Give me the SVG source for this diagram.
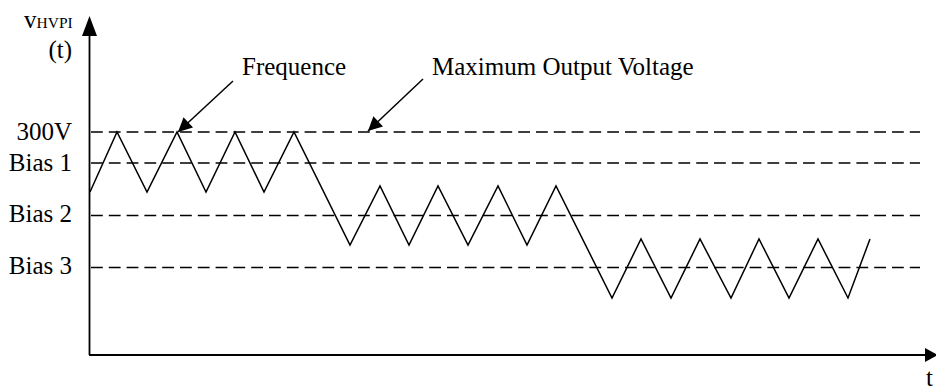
<svg xmlns="http://www.w3.org/2000/svg" width="936" height="390" viewBox="0 0 936 390">
<style>
.t{font-family:"Liberation Serif","Times New Roman",serif;font-size:25px;fill:#000}
.dash{stroke:#000;stroke-width:1.5;stroke-dasharray:11.8 6;fill:none}
.ax{stroke:#000;stroke-width:1.8;fill:none}
.wave{stroke:#000;stroke-width:1.5;fill:none;stroke-linejoin:miter}
.ann{stroke:#000;stroke-width:1.5;fill:none}
</style>
<defs>
<marker id="ah" viewBox="0 0 10 10" refX="10" refY="5" markerWidth="19" markerHeight="14" markerUnits="userSpaceOnUse" orient="auto">
<path d="M0,0 L10,5 L0,10 z" fill="#000"/>
</marker>
</defs>
<rect width="936" height="390" fill="#fff"/>
<g id="axes">
<line class="ax" x1="89.5" y1="30" x2="89.5" y2="355"/>
<polygon points="89.5,16 82,36 97,36" fill="#000"/>
<line class="ax" x1="89" y1="355" x2="928" y2="355"/>
<polygon points="938,355 925,348 925,362" fill="#000"/>
</g>
<g id="levels">
<line class="dash" x1="91" y1="132" x2="920" y2="132"/>
<line class="dash" x1="91" y1="163" x2="920" y2="163"/>
<line class="dash" x1="91" y1="215.5" x2="920" y2="215.5"/>
<line class="dash" x1="91" y1="267.5" x2="920" y2="267.5"/>
</g>
<g id="labels">
<text class="t" x="24" y="28" font-size="21">v<tspan font-size="15.5">HVPI</tspan></text>
<text class="t" x="72" y="58" text-anchor="end">(t)</text>
<text class="t" x="72" y="140" text-anchor="end">300V</text>
<text class="t" x="72" y="171" text-anchor="end">Bias 1</text>
<text class="t" x="72" y="222" text-anchor="end">Bias 2</text>
<text class="t" x="72" y="274" text-anchor="end">Bias 3</text>
<text class="t" x="926" y="386">t</text>
<text class="t" x="242" y="75">Frequence</text>
<text class="t" x="432" y="75">Maximum Output Voltage</text>
</g>
<g id="connectors">
<line class="ann" x1="233" y1="81" x2="178" y2="132" marker-end="url(#ah)"/>
<line class="ann" x1="423" y1="79" x2="368" y2="131" marker-end="url(#ah)"/>
</g>
<g id="waveform">
<polyline class="wave" points="90,192 117,132 147,192 177,132 206,192 235,132 264,192 294,132 350,245 380,186 409,245 438,186 468,245 498,186 527,245 556,186 612,298 641,239 671,298 700,239 731,298 759,239 789,298 818,239 848,298 870,239"/>
</g>
</svg>
